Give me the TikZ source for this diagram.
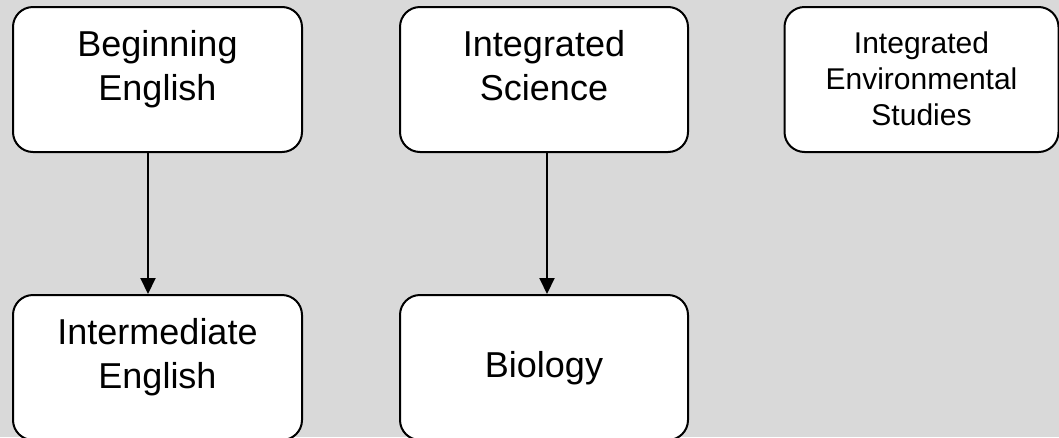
\documentclass[tikz,border=0pt]{standalone}
\usepackage{fontspec}
\setmainfont{Liberation Sans}
\usetikzlibrary{arrows.meta,calc}
\begin{document}
\begin{tikzpicture}[x=1pt,y=-1pt,
  box/.style={draw=black,line width=2pt,fill=white,rounded corners=20pt,inner sep=0pt},
  txt/.style={align=center,inner sep=0pt,font=\fontsize{36}{43.2}\selectfont},
  smalltxt/.style={align=center,inner sep=0pt,font=\fontsize{30}{36}\selectfont},
  arr/.style={line width=2pt,-{Triangle[length=16pt,width=15pt]}}]
\fill[fill={rgb,255:red,217;green,217;blue,217}] (0,0) rectangle (1059,437);
\useasboundingbox (0,0) rectangle (1059,437);
\clip (0,0) rectangle (1059,437);
\node[box,minimum width=289pt,minimum height=145pt] (b1) at (157.5,79.5) {};
\node[box,minimum width=288pt,minimum height=145pt] (b2) at (544,79.5) {};
\node[box,minimum width=274pt,minimum height=145pt] (b3) at (921.5,79.5) {};
\node[box,minimum width=289pt,minimum height=145pt] (b4) at (157.5,367.5) {};
\node[box,minimum width=288pt,minimum height=145pt] (b5) at (544,367.5) {};
\node[txt,anchor=base] (t1) at (157.5,100) {Beginning\\English};
\node[txt,anchor=base] (t2) at (544,100) {Integrated\\Science};
\node[smalltxt,anchor=base] (t3) at (921.5,125) {Integrated\\Environmental\\Studies};
\node[txt,anchor=base] (t4) at (157.5,388) {Intermediate\\English};
\node[txt,anchor=base] (t5) at (544,377) {Biology};
\coordinate (a1) at (148,0);
\coordinate (a2) at (547,0);
\draw[arr] (a1 |- b1.south) -- (a1 |- b4.north);
\draw[arr] (a2 |- b2.south) -- (a2 |- b5.north);
\end{tikzpicture}
\end{document}
